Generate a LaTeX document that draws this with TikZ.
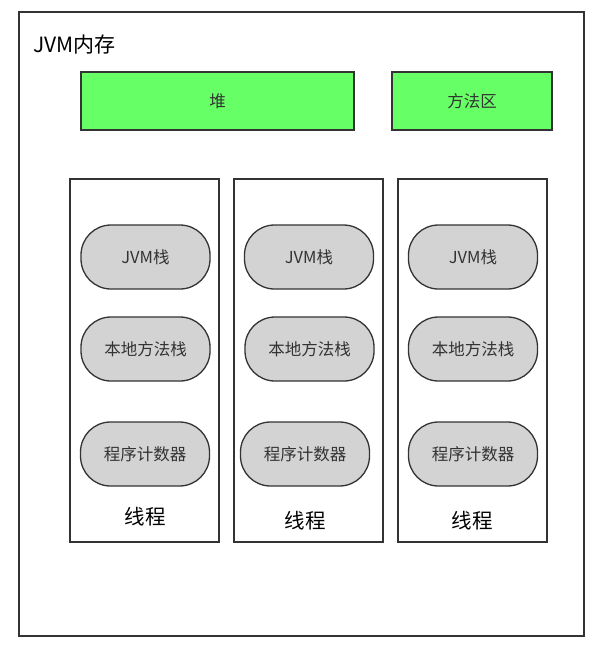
\documentclass[tikz,border=0pt]{standalone}
\usepackage{fontspec}
\setmainfont{Noto Sans CJK SC}
\usepackage{tikz}

\definecolor{heapgreen}{HTML}{66FF66}
\definecolor{pillgray}{HTML}{D3D3D3}
\definecolor{edge}{HTML}{333333}

\begin{document}
\begin{tikzpicture}[x=1pt, y=-1pt, outer sep = 0pt, inner sep=0pt]

\tikzstyle{area}=[draw=edge, line width=1.6pt, rectangle, fill=heapgreen, minimum height=58pt, text=edge, font=\fontsize{16.5}{19}\selectfont, anchor=north west]
\tikzstyle{thread}=[draw=edge, line width=1.3pt, rectangle, minimum width=149pt, minimum height=363pt, anchor=north west]
\tikzstyle{stack}=[draw=edge, line width=1.3pt, rectangle, rounded corners=30pt, fill=pillgray, minimum width=129pt, minimum height=64pt, text=edge, font=\fontsize{16.5}{19}\selectfont]
\tikzstyle{tlabel}=[font=\fontsize{20.5}{24}\selectfont]

\useasboundingbox (0,0) rectangle (600,654);
\node[draw=edge, line width=1.3pt, rectangle, minimum width=565pt, minimum height=624pt, anchor=north west] (jvm) at (19,12) {};
\node[anchor=west, font=\fontsize{21}{24}\selectfont] (jvmlabel) at (33,45) {JVM内存};

\node[area, minimum width=273pt] (heap) at (81,72) {堆};
\node[area, minimum width=160pt] (method) at (392,72) {方法区};

\node[thread] (t1) at (70,179) {}; \node[thread] (t2) at (234,179) {}; \node[thread] (t3) at (398,179) {};

\node[stack] (jvms1) at (145.5,257) {JVM栈}; \node[stack] (jvms2) at (309,257) {JVM栈}; \node[stack] (jvms3) at (473,257) {JVM栈};
\node[stack] (nat1) at (145.5,349) {本地方法栈}; \node[stack] (nat2) at (309.5,349) {本地方法栈}; \node[stack] (nat3) at (473,349) {本地方法栈};
\node[stack] (pc1) at (145,454) {程序计数器}; \node[stack] (pc2) at (305,454) {程序计数器}; \node[stack] (pc3) at (473,454) {程序计数器};

\node[tlabel] (tl1) at (145,517) {线程}; \node[tlabel] (tl2) at (305,521) {线程}; \node[tlabel] (tl3) at (472,521) {线程};

\end{tikzpicture}
\end{document}
